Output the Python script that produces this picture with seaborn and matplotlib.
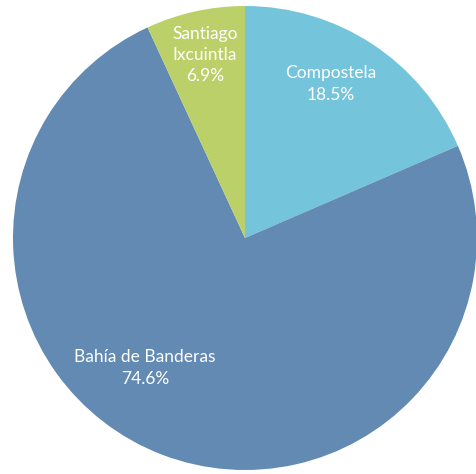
import matplotlib
matplotlib.use("Agg")
import matplotlib.pyplot as plt
import seaborn as sns

# municipios y su porcentaje
municipios = ["Compostela", "Bahía de Banderas", "Santiago\nIxcuintla"]
porcentajes = [18.5, 74.6, 6.9]
colores = ["#74C5DB", "#628AB2", "#BCD06A"]

sns.set_theme(style="white")
plt.rcParams["font.family"] = ["Lato", "DejaVu Sans"]

fig = plt.figure(figsize=(4.77, 4.74), dpi=100)
ax = fig.add_axes([0, 0, 1, 1])

# pixel-like coordinates, center of the pie at (245, 238) from top-left
r = 232
wedges, _ = ax.pie(porcentajes, colors=sns.color_palette(colores), startangle=90,
                   counterclock=False, radius=r, center=(0, 0),
                   wedgeprops=dict(linewidth=0))

label_pos = [(86, 154), (-100, -130), (-40, 183)]
for name, pct, (x, y) in zip(municipios, porcentajes, label_pos):
    ax.text(x, y, f"{name}\n{pct:.1f}%", ha="center", va="center", color="white",
            fontsize=12.5, linespacing=1.4)

ax.set_xlim(-245, 232)
ax.set_ylim(-236, 238)
ax.set_aspect("equal")
ax.axis("off")

fig.savefig("out.png", dpi=100)
